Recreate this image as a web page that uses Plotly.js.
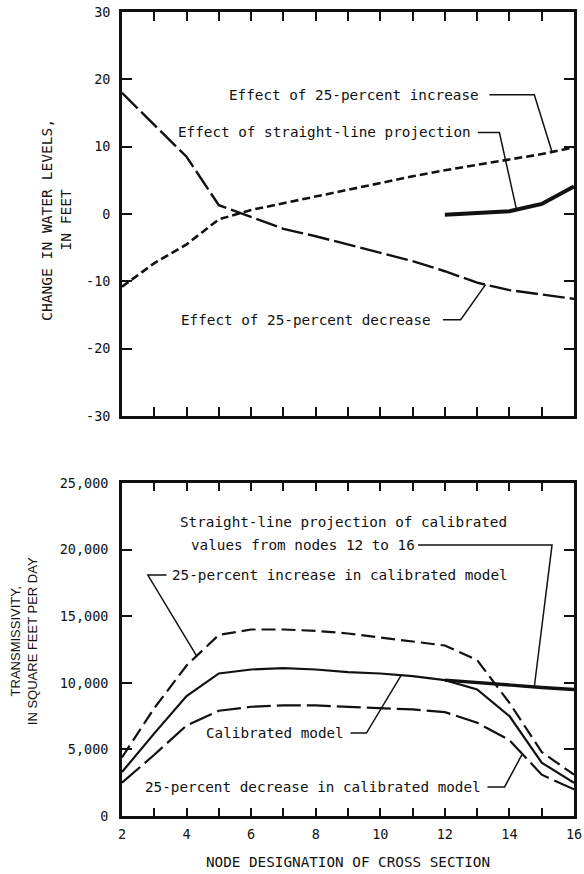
<!DOCTYPE html>
<html>
<head>
<meta charset="utf-8">
<script src="https://cdn.plot.ly/plotly-3.0.1.min.js"></script>
<style>html,body{margin:0;padding:0;background:#fff;}#chart{width:584px;height:874px;}</style>
</head>
<body>
<div id="chart"></div>
<script>
// ---- Data ----
const nodes = [2,3,4,5,6,7,8,9,10,11,12,13,14,15,16];
const nodeTickText = ['2','','4','','6','','8','','10','','12','','14','','16'];

// Upper panel: change in water levels, feet
const effectIncrease = [-10.8,-7.3,-4.5,-0.8,0.6,1.6,2.6,3.6,4.7,5.6,6.5,7.3,8.0,8.9,9.9];
const effectDecrease = [18.0,13.2,8.5,1.3,-0.5,-2.2,-3.3,-4.5,-5.8,-7.0,-8.5,-10.2,-11.3,-12.0,-12.6];
const projNodes = [12,13,14,15,16];
const effectProjection = [-0.1,0.15,0.4,1.5,4.1];
const changeTickVals = [30,20,10,0,-10,-20,-30];
const changeTickText = ['30','20','10','0','-10','-20','-30'];

// Lower panel: transmissivity, ft2/day
const calibrated = [3300,6200,9000,10700,11000,11100,11000,10800,10700,10500,10200,9500,7500,4000,2500];
const increased  = [4400,8100,11300,13600,14000,14000,13900,13700,13400,13100,12800,11700,8500,4800,3100];
const decreased  = [2500,4600,6800,7900,8200,8300,8300,8200,8100,8000,7800,7000,5700,3100,2000];
const projection = [10200,10000,9800,9650,9500];

// ---- helpers ----
function interp(xs, ys, x){
  for(let i=0;i<xs.length-1;i++){
    if(x>=xs[i] && x<=xs[i+1]){
      const t=(x-xs[i])/(xs[i+1]-xs[i]);
      return ys[i]+t*(ys[i+1]-ys[i]);
    }
  }
  return ys[ys.length-1];
}
const K = '#111';
const MONO = 'DejaVu Sans Mono, monospace';

const traces = [
  {x:nodes, y:effectIncrease, xaxis:'x', yaxis:'y', mode:'lines', line:{color:K,width:2.6,dash:'8px,4px'}},
  {x:nodes, y:effectDecrease, xaxis:'x', yaxis:'y', mode:'lines', line:{color:K,width:2.4,dash:'22px,5px'}},
  {x:projNodes, y:effectProjection, xaxis:'x', yaxis:'y', mode:'lines', line:{color:K,width:4}},
  {x:nodes, y:increased, xaxis:'x2', yaxis:'y2', mode:'lines', line:{color:K,width:2.2,dash:'14px,6px'}},
  {x:nodes, y:calibrated, xaxis:'x2', yaxis:'y2', mode:'lines', line:{color:K,width:2.2}},
  {x:nodes, y:decreased, xaxis:'x2', yaxis:'y2', mode:'lines', line:{color:K,width:2.2,dash:'24px,6px'}},
  {x:projNodes, y:projection, xaxis:'x2', yaxis:'y2', mode:'lines', line:{color:K,width:3.4}}
];

const axCommon = {showline:true, linecolor:K, linewidth:2.8, mirror:'ticks', ticks:'inside',
  tickcolor:K, tickwidth:2, showgrid:false, zeroline:false, fixedrange:true,
  ticklabeloverflow:'allow',
  tickfont:{family:MONO, size:13.5, color:K}};

function leader(xr, yr, pts){
  let d='M '+pts[0][0]+' '+pts[0][1];
  for(let i=1;i<pts.length;i++) d+=' L '+pts[i][0]+' '+pts[i][1];
  return {type:'path', xref:xr, yref:yr, path:d, line:{color:K,width:1.5}};
}
function label(xr, yr, text, x, y, anchor){
  return {xref:xr, yref:yr, x:x, y:y, text:text, showarrow:false, xanchor:anchor, yanchor:'middle',
    font:{family:MONO, size:14.3, color:K}};
}

const annotations = [
  label('x','y','Effect of 25-percent increase',13.11,17.7,'right'),
  label('x','y','Effect of straight-line projection',12.86,12.2,'right'),
  label('x','y','Effect of 25-percent decrease',11.63,-15.7,'right'),
  label('x2','y2','Straight-line projection of calibrated',3.72,22070,'left'),
  label('x2','y2','values from nodes 12 to 16',4.09,20350,'left'),
  label('x2','y2','25-percent increase in calibrated model',3.48,18090,'left'),
  label('x2','y2','Calibrated model',8.95,6230,'right'),
  label('x2','y2','25-percent decrease in calibrated model',13.17,2180,'right'),
  {xref:'paper', yref:'paper', x:-0.145, y:0.742, text:'CHANGE IN WATER LEVELS,<br>IN FEET', showarrow:false,
    textangle:-90, xanchor:'center', yanchor:'middle', font:{family:MONO, size:14.6, color:K}},
  {xref:'paper', yref:'paper', x:-0.218, y:0.218, text:'TRANSMISSIVITY,<br>IN SQUARE FEET PER DAY', showarrow:false,
    textangle:-90, xanchor:'center', yanchor:'middle', font:{family:'Liberation Sans, Arial, sans-serif', size:13, color:K}}
];

const shapes = [
  leader('x','y',[[13.38,17.7],[14.77,17.7],[15.32,interp(nodes,effectIncrease,15.32)]]),
  leader('x','y',[[13.02,12.1],[13.69,12.1],[14.22,interp(projNodes,effectProjection,14.22)]]),
  leader('x','y',[[11.94,-15.7],[12.49,-15.7],[13.26,interp(nodes,effectDecrease,13.26)]]),
  leader('x2','y2',[[11.17,20350],[15.32,20350],[14.77,interp(projNodes,projection,14.77)]]),
  leader('x2','y2',[[3.38,18090],[2.8,18090],[4.31,interp(nodes,increased,4.31)]]),
  leader('x2','y2',[[9.08,6230],[9.57,6230],[10.65,interp(nodes,calibrated,10.65)]]),
  leader('x2','y2',[[13.32,2180],[13.85,2180],[14.4,interp(nodes,decreased,14.4)]])
];

const layout = {
  width:584, height:874,
  margin:{l:122, r:10, t:12, b:58},
  paper_bgcolor:'#fff', plot_bgcolor:'#fff',
  showlegend:false,
  xaxis:Object.assign({}, axCommon, {anchor:'y', range:[2,16], tickvals:nodes, ticktext:nodeTickText,
    showticklabels:false, ticklen:9}),
  yaxis:Object.assign({}, axCommon, {domain:[0.4975,1], range:[-30,30], tickvals:changeTickVals,
    ticktext:changeTickText, ticklen:10, ticklabelstandoff:6}),
  xaxis2:Object.assign({}, axCommon, {anchor:'y2', range:[2,16], tickvals:nodes, ticktext:nodeTickText,
    ticklen:8, ticklabelstandoff:4,
    title:{text:'NODE DESIGNATION OF CROSS SECTION', font:{family:MONO, size:14.3, color:K}, standoff:16}}),
  yaxis2:Object.assign({}, axCommon, {domain:[0,0.4142], range:[0,25000], dtick:5000, tickformat:',d',
    ticklen:10, ticklabelstandoff:8}),
  annotations:annotations,
  shapes:shapes
};

Plotly.newPlot('chart', traces, layout, {staticPlot:true, displayModeBar:false});
</script>
</body>
</html>
